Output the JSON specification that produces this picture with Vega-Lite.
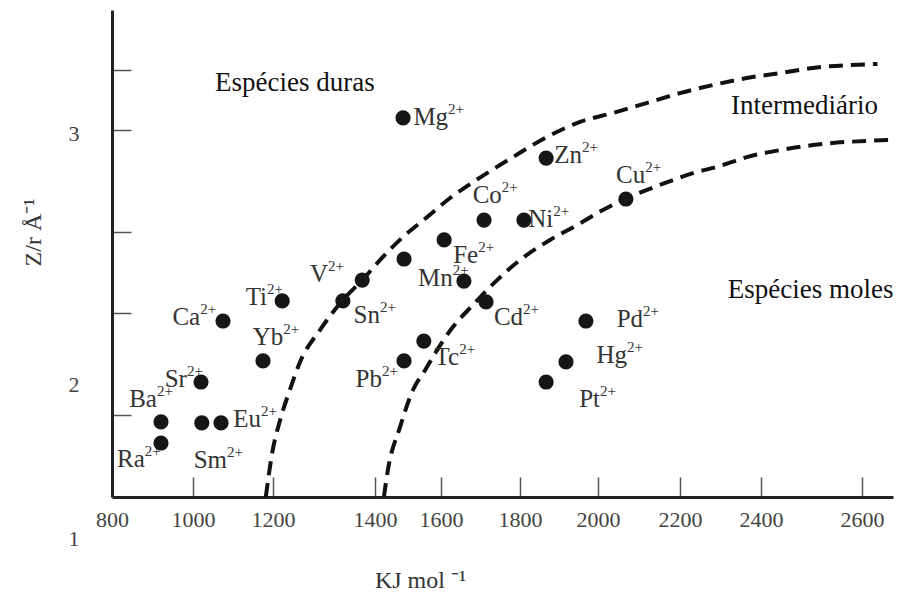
{
  "$schema": "https://vega.github.io/schema/vega-lite/v6.json",
  "width": 781,
  "height": 487,
  "autosize": {"type": "none"},
  "padding": {"left": 112, "top": 10, "right": 4, "bottom": 96},
  "background": "white",
  "config": {"font": "Liberation Serif", "view": {"stroke": null}},
  "datasets": {
    "curves": [
      {"curve": "duras", "kj": 1182, "zr": 1.554},
      {"curve": "duras", "kj": 1197, "zr": 1.721},
      {"curve": "duras", "kj": 1214, "zr": 1.861},
      {"curve": "duras", "kj": 1233, "zr": 1.98},
      {"curve": "duras", "kj": 1253, "zr": 2.092},
      {"curve": "duras", "kj": 1292, "zr": 2.219},
      {"curve": "duras", "kj": 1337, "zr": 2.339},
      {"curve": "duras", "kj": 1375, "zr": 2.418},
      {"curve": "duras", "kj": 1415, "zr": 2.498},
      {"curve": "duras", "kj": 1485, "zr": 2.59},
      {"curve": "duras", "kj": 1558, "zr": 2.669},
      {"curve": "duras", "kj": 1623, "zr": 2.745},
      {"curve": "duras", "kj": 1678, "zr": 2.805},
      {"curve": "duras", "kj": 1782, "zr": 2.908},
      {"curve": "duras", "kj": 1869, "zr": 2.988},
      {"curve": "duras", "kj": 1954, "zr": 3.048},
      {"curve": "duras", "kj": 2037, "zr": 3.084},
      {"curve": "duras", "kj": 2120, "zr": 3.124},
      {"curve": "duras", "kj": 2200, "zr": 3.163},
      {"curve": "duras", "kj": 2281, "zr": 3.195},
      {"curve": "duras", "kj": 2365, "zr": 3.223},
      {"curve": "duras", "kj": 2438, "zr": 3.243},
      {"curve": "duras", "kj": 2503, "zr": 3.263},
      {"curve": "duras", "kj": 2630, "zr": 3.279},
      {"curve": "moles", "kj": 1427, "zr": 1.554},
      {"curve": "moles", "kj": 1439, "zr": 1.661},
      {"curve": "moles", "kj": 1476, "zr": 1.833},
      {"curve": "moles", "kj": 1515, "zr": 1.98},
      {"curve": "moles", "kj": 1552, "zr": 2.06},
      {"curve": "moles", "kj": 1588, "zr": 2.139},
      {"curve": "moles", "kj": 1630, "zr": 2.231},
      {"curve": "moles", "kj": 1681, "zr": 2.319},
      {"curve": "moles", "kj": 1742, "zr": 2.418},
      {"curve": "moles", "kj": 1800, "zr": 2.498},
      {"curve": "moles", "kj": 1877, "zr": 2.578},
      {"curve": "moles", "kj": 1946, "zr": 2.637},
      {"curve": "moles", "kj": 2012, "zr": 2.697},
      {"curve": "moles", "kj": 2071, "zr": 2.745},
      {"curve": "moles", "kj": 2151, "zr": 2.797},
      {"curve": "moles", "kj": 2242, "zr": 2.849},
      {"curve": "moles", "kj": 2291, "zr": 2.869},
      {"curve": "moles", "kj": 2365, "zr": 2.908},
      {"curve": "moles", "kj": 2438, "zr": 2.936},
      {"curve": "moles", "kj": 2503, "zr": 2.956},
      {"curve": "moles", "kj": 2655, "zr": 2.976}
    ],
    "points": [
      {"ion": "Ra", "kj": 921, "zr": 1.769},
      {"ion": "Ba", "kj": 921, "zr": 1.853},
      {"ion": "Sr", "kj": 1020, "zr": 2.012},
      {"ion": "Sm", "kj": 1022, "zr": 1.849},
      {"ion": "Eu", "kj": 1070, "zr": 1.849},
      {"ion": "Ca", "kj": 1075, "zr": 2.255},
      {"ion": "Yb", "kj": 1175, "zr": 2.096},
      {"ion": "Ti", "kj": 1218, "zr": 2.335},
      {"ion": "Sn", "kj": 1337, "zr": 2.335},
      {"ion": "V", "kj": 1375, "zr": 2.418},
      {"ion": "Pb", "kj": 1488, "zr": 2.096},
      {"ion": "sem rótulo", "kj": 1488, "zr": 2.502},
      {"ion": "Mg", "kj": 1485, "zr": 3.064},
      {"ion": "Tc", "kj": 1548, "zr": 2.175},
      {"ion": "Fe", "kj": 1608, "zr": 2.578},
      {"ion": "Mn", "kj": 1658, "zr": 2.414},
      {"ion": "Co", "kj": 1709, "zr": 2.657},
      {"ion": "Cd", "kj": 1714, "zr": 2.331},
      {"ion": "Ni", "kj": 1810, "zr": 2.657},
      {"ion": "Zn", "kj": 1867, "zr": 2.904},
      {"ion": "Pt", "kj": 1867, "zr": 2.012},
      {"ion": "Hg", "kj": 1918, "zr": 2.092},
      {"ion": "Pd", "kj": 1969, "zr": 2.255},
      {"ion": "Cu", "kj": 2068, "zr": 2.741}
    ],
    "labels": [
      {"ion": "Mg", "charge": "2+", "kj": 1618, "zr": 3.036},
      {"ion": "Zn", "charge": "2+", "kj": 1959, "zr": 2.884},
      {"ion": "Co", "charge": "2+", "kj": 1754, "zr": 2.725},
      {"ion": "Ni", "charge": "2+", "kj": 1885, "zr": 2.629},
      {"ion": "Fe", "charge": "2+", "kj": 1694, "zr": 2.486},
      {"ion": "Mn", "charge": "2+", "kj": 1630, "zr": 2.394},
      {"ion": "V", "charge": "2+", "kj": 1308, "zr": 2.41},
      {"ion": "Ti", "charge": "2+", "kj": 1185, "zr": 2.319},
      {"ion": "Ca", "charge": "2+", "kj": 1018, "zr": 2.239},
      {"ion": "Yb", "charge": "2+", "kj": 1220, "zr": 2.159},
      {"ion": "Sr", "charge": "2+", "kj": 985, "zr": 1.992},
      {"ion": "Ba", "charge": "2+", "kj": 911, "zr": 1.912},
      {"ion": "Eu", "charge": "2+", "kj": 1170, "zr": 1.833},
      {"ion": "Ra", "charge": "2+", "kj": 881, "zr": 1.673},
      {"ion": "Sm", "charge": "2+", "kj": 1085, "zr": 1.669},
      {"ion": "Sn", "charge": "2+", "kj": 1415, "zr": 2.247},
      {"ion": "Tc", "charge": "2+", "kj": 1646, "zr": 2.08},
      {"ion": "Pb", "charge": "2+", "kj": 1421, "zr": 1.992},
      {"ion": "Cd", "charge": "2+", "kj": 1808, "zr": 2.239},
      {"ion": "Pd", "charge": "2+", "kj": 2110, "zr": 2.231},
      {"ion": "Hg", "charge": "2+", "kj": 2071, "zr": 2.088},
      {"ion": "Pt", "charge": "2+", "kj": 2005, "zr": 1.912},
      {"ion": "Cu", "charge": "2+", "kj": 2115, "zr": 2.805}
    ],
    "notes": [
      {"note": "Espécies duras", "kj": 1055, "zr": 3.171},
      {"note": "Intermediário", "kj": 2326, "zr": 3.08},
      {"note": "Espécies moles", "kj": 2318, "zr": 2.347}
    ],
    "ylabels": [
      {"label": "3", "kj": 706, "zr": 3.0},
      {"label": "2", "kj": 706, "zr": 2.0},
      {"label": "1", "kj": 706, "zr": 1.386}
    ]
  },
  "encoding": {
    "x": {
      "field": "kj",
      "type": "quantitative",
      "scale": {
        "domain": [800, 1000, 1200, 1400, 1600, 1800, 2000, 2200, 2400, 2600, 2660],
        "range": [0, 81, 161, 263, 329, 408, 486, 568, 649, 750, 781],
        "nice": false,
        "zero": false
      },
      "axis": {
        "values": [800, 1000, 1200, 1400, 1600, 1800, 2000, 2200, 2400, 2600],
        "format": "d",
        "title": "KJ mol ⁻¹",
        "grid": false,
        "labelFont": "Liberation Serif",
        "labelFontSize": 22,
        "labelColor": "#444",
        "labelFlush": false,
        "labelOverlap": false,
        "labelPadding": 32,
        "tickSize": -20,
        "tickColor": "#555",
        "tickWidth": 1.5,
        "domainColor": "#222",
        "domainWidth": 3,
        "titleFont": "Liberation Serif",
        "titleFontSize": 24,
        "titleFontWeight": "normal",
        "titleColor": "#333",
        "titleX": 308,
        "titleY": 90,
        "titleAlign": "center",
        "titleBaseline": "alphabetic"
      }
    },
    "y": {
      "field": "zr",
      "type": "quantitative",
      "scale": {"domain": [1.554, 3.494], "nice": false, "zero": false},
      "axis": {
        "values": [3.255, 3.016, 2.61, 2.287, 1.88],
        "labels": false,
        "grid": false,
        "tickSize": -19,
        "tickColor": "#555",
        "tickWidth": 1.5,
        "domainColor": "#222",
        "domainWidth": 3,
        "title": "Z/r Å⁻¹",
        "titleFont": "Liberation Serif",
        "titleFontSize": 24,
        "titleFontWeight": "normal",
        "titleColor": "#333",
        "titleX": -79,
        "titleY": 222,
        "titleAngle": -90,
        "titleAlign": "center",
        "titleBaseline": "middle"
      }
    }
  },
  "layer": [
    {
      "data": {"name": "curves"},
      "mark": {"type": "line", "color": "#111", "strokeWidth": 4, "strokeDash": [14, 8], "interpolate": "monotone"},
      "encoding": {"detail": {"field": "curve", "type": "nominal"}}
    },
    {
      "data": {"name": "points"},
      "mark": {"type": "circle", "color": "#161616", "opacity": 1, "size": 230},
      "encoding": {}
    },
    {
      "data": {"name": "labels"},
      "mark": {"type": "text", "align": "right", "baseline": "alphabetic", "fontSize": 25, "color": "#333", "font": "Liberation Serif"},
      "encoding": {"text": {"field": "ion", "type": "nominal"}}
    },
    {
      "data": {"name": "labels"},
      "mark": {"type": "text", "align": "left", "baseline": "alphabetic", "fontSize": 15, "dy": -11, "color": "#333", "font": "Liberation Serif"},
      "encoding": {"text": {"field": "charge", "type": "nominal"}}
    },
    {
      "data": {"name": "notes"},
      "mark": {"type": "text", "align": "left", "baseline": "alphabetic", "fontSize": 27, "color": "#111", "font": "Liberation Serif"},
      "encoding": {"text": {"field": "note", "type": "nominal"}}
    },
    {
      "data": {"name": "ylabels"},
      "mark": {"type": "text", "align": "center", "baseline": "middle", "fontSize": 22, "color": "#444", "font": "Liberation Serif"},
      "encoding": {"text": {"field": "label", "type": "nominal"}}
    }
  ]
}
